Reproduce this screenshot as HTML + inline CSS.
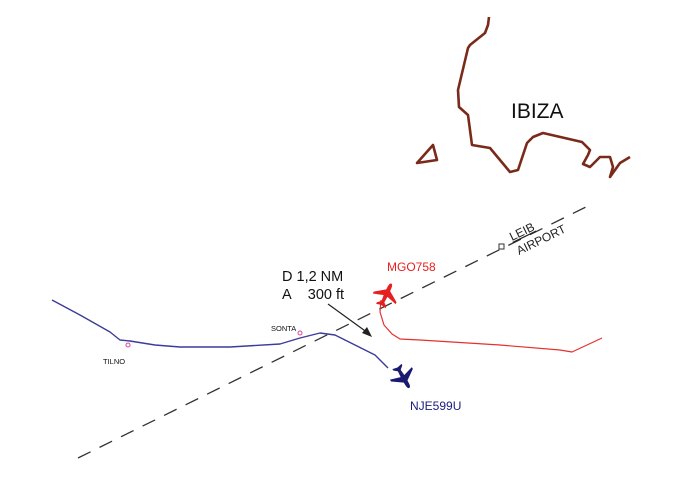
<!DOCTYPE html>
<html><head><style>
html,body{margin:0;padding:0;background:#fff;}
svg{display:block;font-family:"Liberation Sans",sans-serif;}
</style></head><body>
<svg width="686" height="477" viewBox="0 0 686 477">
<defs>
<g id="pl">
<path d="M0,-12 C2,-12 2,-8 2,-5 L12,2 L12,4 L2,1 L1.5,7 L5,10 L5,11.5 L0,10.5 L-5,11.5 L-5,10 L-1.5,7 L-2,1 L-12,4 L-12,2 L-2,-5 C-2,-8 -2,-12 0,-12 Z"/>
</g>
</defs>
<rect width="686" height="477" fill="#fff"/>
<polyline fill="none" stroke="#7a2a1a" stroke-width="2.6" stroke-linejoin="round" points="489,17 488,25 485,33 470,45 468,48 458,90 459,107 468,115 472,145 490,148 510,172 518,170 527,143 533,137 543,133 582,142 590,150 588,155 583,164 590,167 600,157 610,157 613,167 610,177 620,163 630,157"/>
<polygon fill="none" stroke="#7a2a1a" stroke-width="2.6" stroke-linejoin="round" points="417,163 433,145 437,160"/>
<text x="511" y="118" font-size="21" fill="#111">IBIZA</text>
<line x1="78" y1="458" x2="590" y2="205" stroke="#333" stroke-width="1.3" stroke-dasharray="14,10"/>
<rect x="499" y="244" width="5" height="5" fill="#fff" stroke="#333" stroke-width="1"/>
<text transform="translate(512,241) rotate(-26)" font-size="12" fill="#222" text-decoration="underline">LEIB</text>
<text transform="translate(519,255) rotate(-26)" font-size="12" fill="#222">AIRPORT</text>
<polyline fill="none" stroke="#3c3c9a" stroke-width="1.4" stroke-linejoin="round" points="52,300 80,315 110,332 120,340 130,341 155,345 180,347 230,347 280,344 300,338 320,333 335,335 355,345 375,355 388,368"/>
<circle cx="128" cy="345" r="2" fill="none" stroke="#e040a0" stroke-width="1"/>
<circle cx="300" cy="333" r="2" fill="none" stroke="#e040a0" stroke-width="1"/>
<text x="103" y="364" font-size="7.5" fill="#111">TILNO</text>
<text x="271" y="331" font-size="7.5" fill="#111">SONTA</text>
<polyline fill="none" stroke="#e53030" stroke-width="1.2" stroke-linejoin="round" points="381,300 380,312 384,325 392,334 400,339 420,340 500,345 560,350 572,352 602,338"/>
<use href="#pl" transform="translate(386,295) rotate(25) scale(1.05)" fill="#e52020"/>
<use href="#pl" transform="translate(403,377) rotate(150) scale(1.05)" fill="#1a1a70"/>
<text x="387" y="271" font-size="12" fill="#e52020">MGO758</text>
<text x="410" y="410" font-size="12" fill="#1a1a80">NJE599U</text>
<text x="282" y="281" font-size="14.5" fill="#111">D 1,2 NM</text>
<text x="282" y="299" font-size="14.5" fill="#111">A&#160;&#160;&#160;&#160;300 ft</text>
<line x1="328" y1="304" x2="368" y2="333" stroke="#222" stroke-width="1.2"/>
<polygon points="372,337 362,333 367,327" fill="#222"/>
</svg>
</body></html>
